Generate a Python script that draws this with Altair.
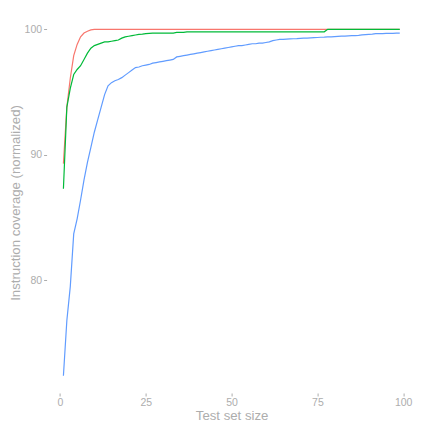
import altair as alt
import pandas as pd

sizes = list(range(1, 100))

red_vals = [89.3, 93.8, 96.1, 97.9, 98.8, 99.4, 99.7, 99.85, 99.95] + [100.0] * 90

green_vals = [87.3, 93.8, 95.3, 96.4, 96.8, 97.1, 97.6, 98.1, 98.5, 98.7,
              98.8, 98.9, 99.0, 99.0, 99.05, 99.1, 99.15, 99.3, 99.4, 99.45,
              99.5, 99.55, 99.6, 99.62, 99.65, 99.68, 99.7, 99.7, 99.7, 99.7,
              99.7, 99.7, 99.7, 99.75, 99.75, 99.75] + [99.8] * 41 + [100.0] * 22

blue_vals = [72.4, 76.8, 79.5, 83.7, 84.9, 86.4, 88.0, 89.4, 90.6, 91.8,
             92.8, 93.8, 94.8, 95.5, 95.75, 95.9, 96.0, 96.15, 96.35, 96.55,
             96.75, 96.95, 97.0, 97.1, 97.15, 97.2, 97.3, 97.35, 97.4, 97.45,
             97.5, 97.55, 97.6, 97.8, 97.85, 97.9, 97.95, 98.0, 98.05, 98.1,
             98.15, 98.2, 98.25, 98.3, 98.35, 98.4, 98.45, 98.5, 98.55, 98.6,
             98.65, 98.7, 98.7, 98.75, 98.8, 98.85, 98.85, 98.9, 98.9, 98.95,
             99.0, 99.1, 99.15, 99.2, 99.2, 99.22, 99.24, 99.25, 99.26, 99.28,
             99.3, 99.3, 99.32, 99.34, 99.35, 99.37, 99.38, 99.4, 99.4, 99.42,
             99.44, 99.45, 99.46, 99.48, 99.49, 99.5, 99.52, 99.55, 99.58, 99.6,
             99.62, 99.65, 99.65, 99.66, 99.67, 99.68, 99.68, 99.7, 99.7]

series_names = ["a", "b", "c"]
series_colors = ["#F8766D", "#00BA38", "#619CFF"]

rows = []
for name, vals in zip(series_names, [red_vals, green_vals, blue_vals]):
    for s, v in zip(sizes, vals):
        rows.append({"size": s, "coverage": v, "series": name})
df = pd.DataFrame(rows)

grey = "#ADADAD"
font = "Liberation Sans"

chart = alt.Chart(df).mark_line(strokeWidth=1.2).encode(
    x=alt.X("size:Q", title="Test set size",
            scale=alt.Scale(domain=[-3.9, 103.9], nice=False, zero=False),
            axis=alt.Axis(values=[0, 25, 50, 75, 100], titleY=26.5,
                          titleBaseline="alphabetic")),
    y=alt.Y("coverage:Q", title="Instruction coverage (normalized)",
            scale=alt.Scale(domain=[71.02, 101.38], nice=False, zero=False),
            axis=alt.Axis(values=[80, 90, 100], titleX=-27,
                          titleBaseline="alphabetic")),
    color=alt.Color("series:N", scale=alt.Scale(domain=series_names, range=series_colors),
                    legend=None),
    order=alt.Order("size:Q"),
).properties(
    width=370, height=381,
    autosize=alt.AutoSizeParams(type="none"),
    padding={"left": 38.6, "top": 4, "right": 4, "bottom": 32},
).configure_view(stroke=None).configure_axis(
    grid=False, domain=False, tickColor=grey, tickSize=3, tickWidth=1,
    labelColor=grey, labelFont=font, labelFontSize=10.5, labelPadding=2,
    titleColor=grey, titleFont=font, titleFontSize=13.2, titleFontWeight="normal",
)

chart.save("out.html", embed_options={"renderer": "svg", "actions": False})
